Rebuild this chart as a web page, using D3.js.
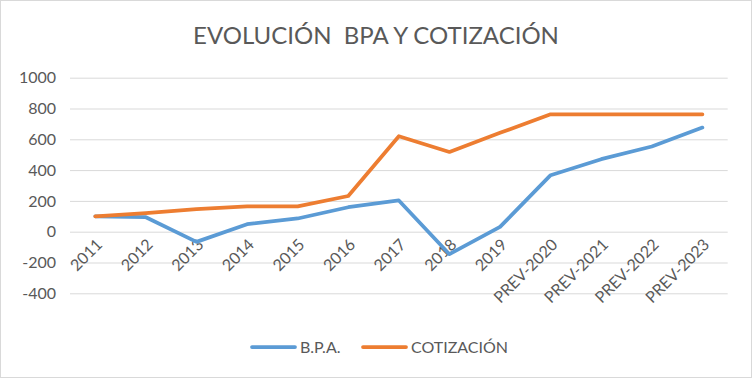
<!DOCTYPE html>
<html><head><meta charset="utf-8">
<script src="https://cdn.jsdelivr.net/npm/d3@7"></script>
<style>body{margin:0;background:#fff}svg{display:block}text{font-family:Lato,"Open Sans",sans-serif;fill:#595959}</style>
</head><body><svg id="c" width="752" height="378"></svg>
<script>
const categories = ["2011","2012","2013","2014","2015","2016","2017","2018","2019","PREV-2020","PREV-2021","PREV-2022","PREV-2023"];
const bpa = [100, 94, -66, 49, 86, 159, 203, -146, 31, 367, 471, 553, 676];
const cotizacion = [100, 120, 146, 164, 164, 232, 620, 518, 642, 762, 762, 762, 762];
const yTicks = [-400, -200, 0, 200, 400, 600, 800, 1000];
const seriesNames = ["B.P.A.", "COTIZACIÓN"];
const colors = ["#5B9BD5", "#ED7D31"];

const svg = d3.select("#c");
svg.append("rect").attr("x",0.5).attr("y",0.5).attr("width",751).attr("height",377)
  .attr("fill","#fff").attr("stroke","#D9D9D9");

svg.append("text").attr("x",376).attr("y",44).attr("text-anchor","middle")
  .style("font-size","24px").style("white-space","pre").text("EVOLUCIÓN  BPA Y COTIZACIÓN");

const x = d3.scaleBand().domain(categories).range([70, 727.7]);
const y = d3.scaleLinear().domain([-400, 1000]).range([293.3, 77.7]);
const cx = d => x(d) + x.bandwidth()/2;

const yAxis = svg.append("g").attr("transform","translate(70,0)")
  .call(d3.axisLeft(y).tickValues(yTicks).tickSize(-657.7).tickPadding(14).tickFormat(d => String(d)));
yAxis.select(".domain").remove();
yAxis.selectAll("line").attr("stroke","#D9D9D9").attr("stroke-width",1);
yAxis.selectAll("text").style("font-size","16px").attr("fill","#595959").style("font-family","Lato");

const xAxis = svg.append("g").attr("transform",`translate(0,${y(0)})`)
  .call(d3.axisBottom(x).tickSize(0).tickPadding(0));
xAxis.select(".domain").remove();
xAxis.selectAll("text").style("font-size","16px").attr("fill","#595959").style("font-family","Lato")
  .attr("text-anchor","end").attr("dy",null)
  .attr("transform","translate(8,14) rotate(-45)").attr("y",0).attr("x",0);

const line = d3.line().x((d,i)=>cx(categories[i])).y(d=>y(d));
[bpa, cotizacion].forEach((s,k)=>{
  svg.append("path").datum(s).attr("d",line).attr("fill","none")
    .attr("stroke",colors[k]).attr("stroke-width",3.75).attr("stroke-linejoin","round").attr("stroke-linecap","round");
});

const leg = [{x:252,name:seriesNames[0],c:colors[0]},{x:363,name:seriesNames[1],c:colors[1]}];
leg.forEach(l=>{
  svg.append("line").attr("x1",l.x).attr("x2",l.x+43).attr("y1",347).attr("y2",347)
    .attr("stroke",l.c).attr("stroke-width",3.75).attr("stroke-linecap","round");
  svg.append("text").attr("x",l.x+48).attr("y",353).style("font-size","16px").text(l.name);
});
</script></body></html>
